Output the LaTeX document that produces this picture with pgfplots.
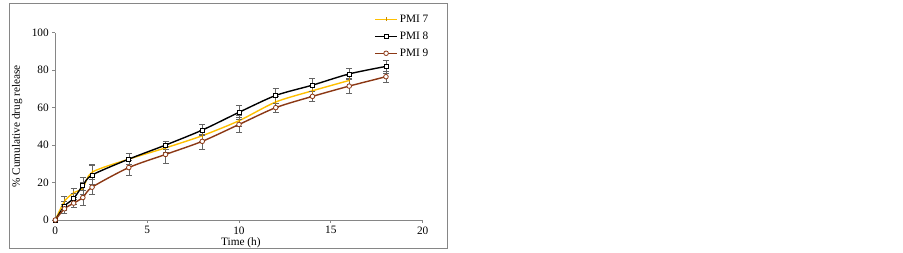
\documentclass[border=0pt]{standalone}
\usepackage{pgfplots}
\pgfplotsset{compat=1.18}
\usepackage{fontspec}
\setmainfont{Liberation Serif}
\definecolor{pmiyellow}{RGB}{255,192,0}
\definecolor{pmiyelmark}{RGB}{200,140,0}
\definecolor{pmibrown}{RGB}{140,56,20}
\definecolor{axgray}{RGB}{134,134,134}
\definecolor{errgray}{RGB}{100,100,100}
\begin{document}
\begin{tikzpicture}
\path[use as bounding box, fill=white] (0pt,0pt) rectangle (903pt,252pt);
\draw[axgray, line width=1pt] (9pt,3.5pt) rectangle (447pt,248pt);
\begin{axis}[
  at={(55.3pt,32pt)}, anchor=south west,
  scale only axis, width=367.4pt, height=187.3pt,
  xmin=0, xmax=20, ymin=0, ymax=100,
  xtick={0,5,10,15,20}, ytick={0,20,40,60,80,100},
  axis lines*=left,
  axis line style={axgray, line width=0.8pt},
  tick style={axgray, line width=0.8pt},
  tick align=outside, major tick length=3pt,
  /pgf/number format/assume math mode=true,
  font=\fontsize{11.3}{13}\selectfont,
  ticklabel style={font=\fontsize{11.3}{13}\selectfont},
  xlabel={Time (h)}, ylabel={\% Cumulative drug release},
  every axis x label/.style={at={(axis description cs:0.505,-0.123)}, anchor=center},
  every axis y label/.style={at={(axis description cs:-0.104,0.5)}, rotate=90, anchor=center},
  clip=false,
  legend style={draw=none, fill=none, at={(axis description cs:0.868,1.107)}, anchor=north west,
    font=\fontsize{11.3}{13}\selectfont, row sep=4pt, inner sep=0pt,
    nodes={inner sep=2pt}},
  legend cell align=left,
  legend image code/.code={\draw[mark repeat=2,mark phase=2,#1] plot coordinates {(0pt,0pt) (11pt,0pt) (22pt,0pt)};},
  error bars/y dir=both, error bars/y explicit,
  error bars/error bar style={errgray, line width=0.5pt},
  error bars/error mark options={rotate=90, mark size=3pt, errgray, line width=0.5pt},
]
\addplot[pmiyellow, line width=1.4pt, smooth, tension=0.45, mark=|, mark size=2pt, mark options={pmiyelmark, line width=1pt}]
  table[y error=e] {
x y e
0 0 0
0.5 10 2.5
1 14.5 2.5
1.5 17 3
2 25.5 4
4 32.5 3
6 38.5 2.5
8 45 3
10 53 3
12 63 3
14 69 3
16 74.5 3
};
\addlegendentry{PMI 7}
\addplot[black, line width=1.4pt, smooth, tension=0.45, mark=square*, mark size=2pt, mark options={fill=white, line width=0.8pt}]
  table[y error=e] {
x y e
0 0 0
0.5 7.5 2.5
1 11.5 3
1.5 18.5 4.5
2 24 5
4 32.5 3
6 40 2
8 48 3
10 57.5 3.5
12 66.5 4
14 72 3.5
16 78 3
18 82 3.5
};
\addlegendentry{PMI 8}
\addplot[pmibrown, line width=1.4pt, smooth, tension=0.45, mark=*, mark size=2.3pt, mark options={fill=white, line width=0.8pt}]
  table[y error=e] {
x y e
0 0 0
0.5 6 2.5
1 9 2
1.5 12 4
2 17.5 4
4 28 4
6 35 4.5
8 42 4
10 51 4
12 60 2.5
14 66 2.5
16 71.5 4
18 76.5 3
};
\addlegendentry{PMI 9}
\end{axis}
\end{tikzpicture}
\end{document}
